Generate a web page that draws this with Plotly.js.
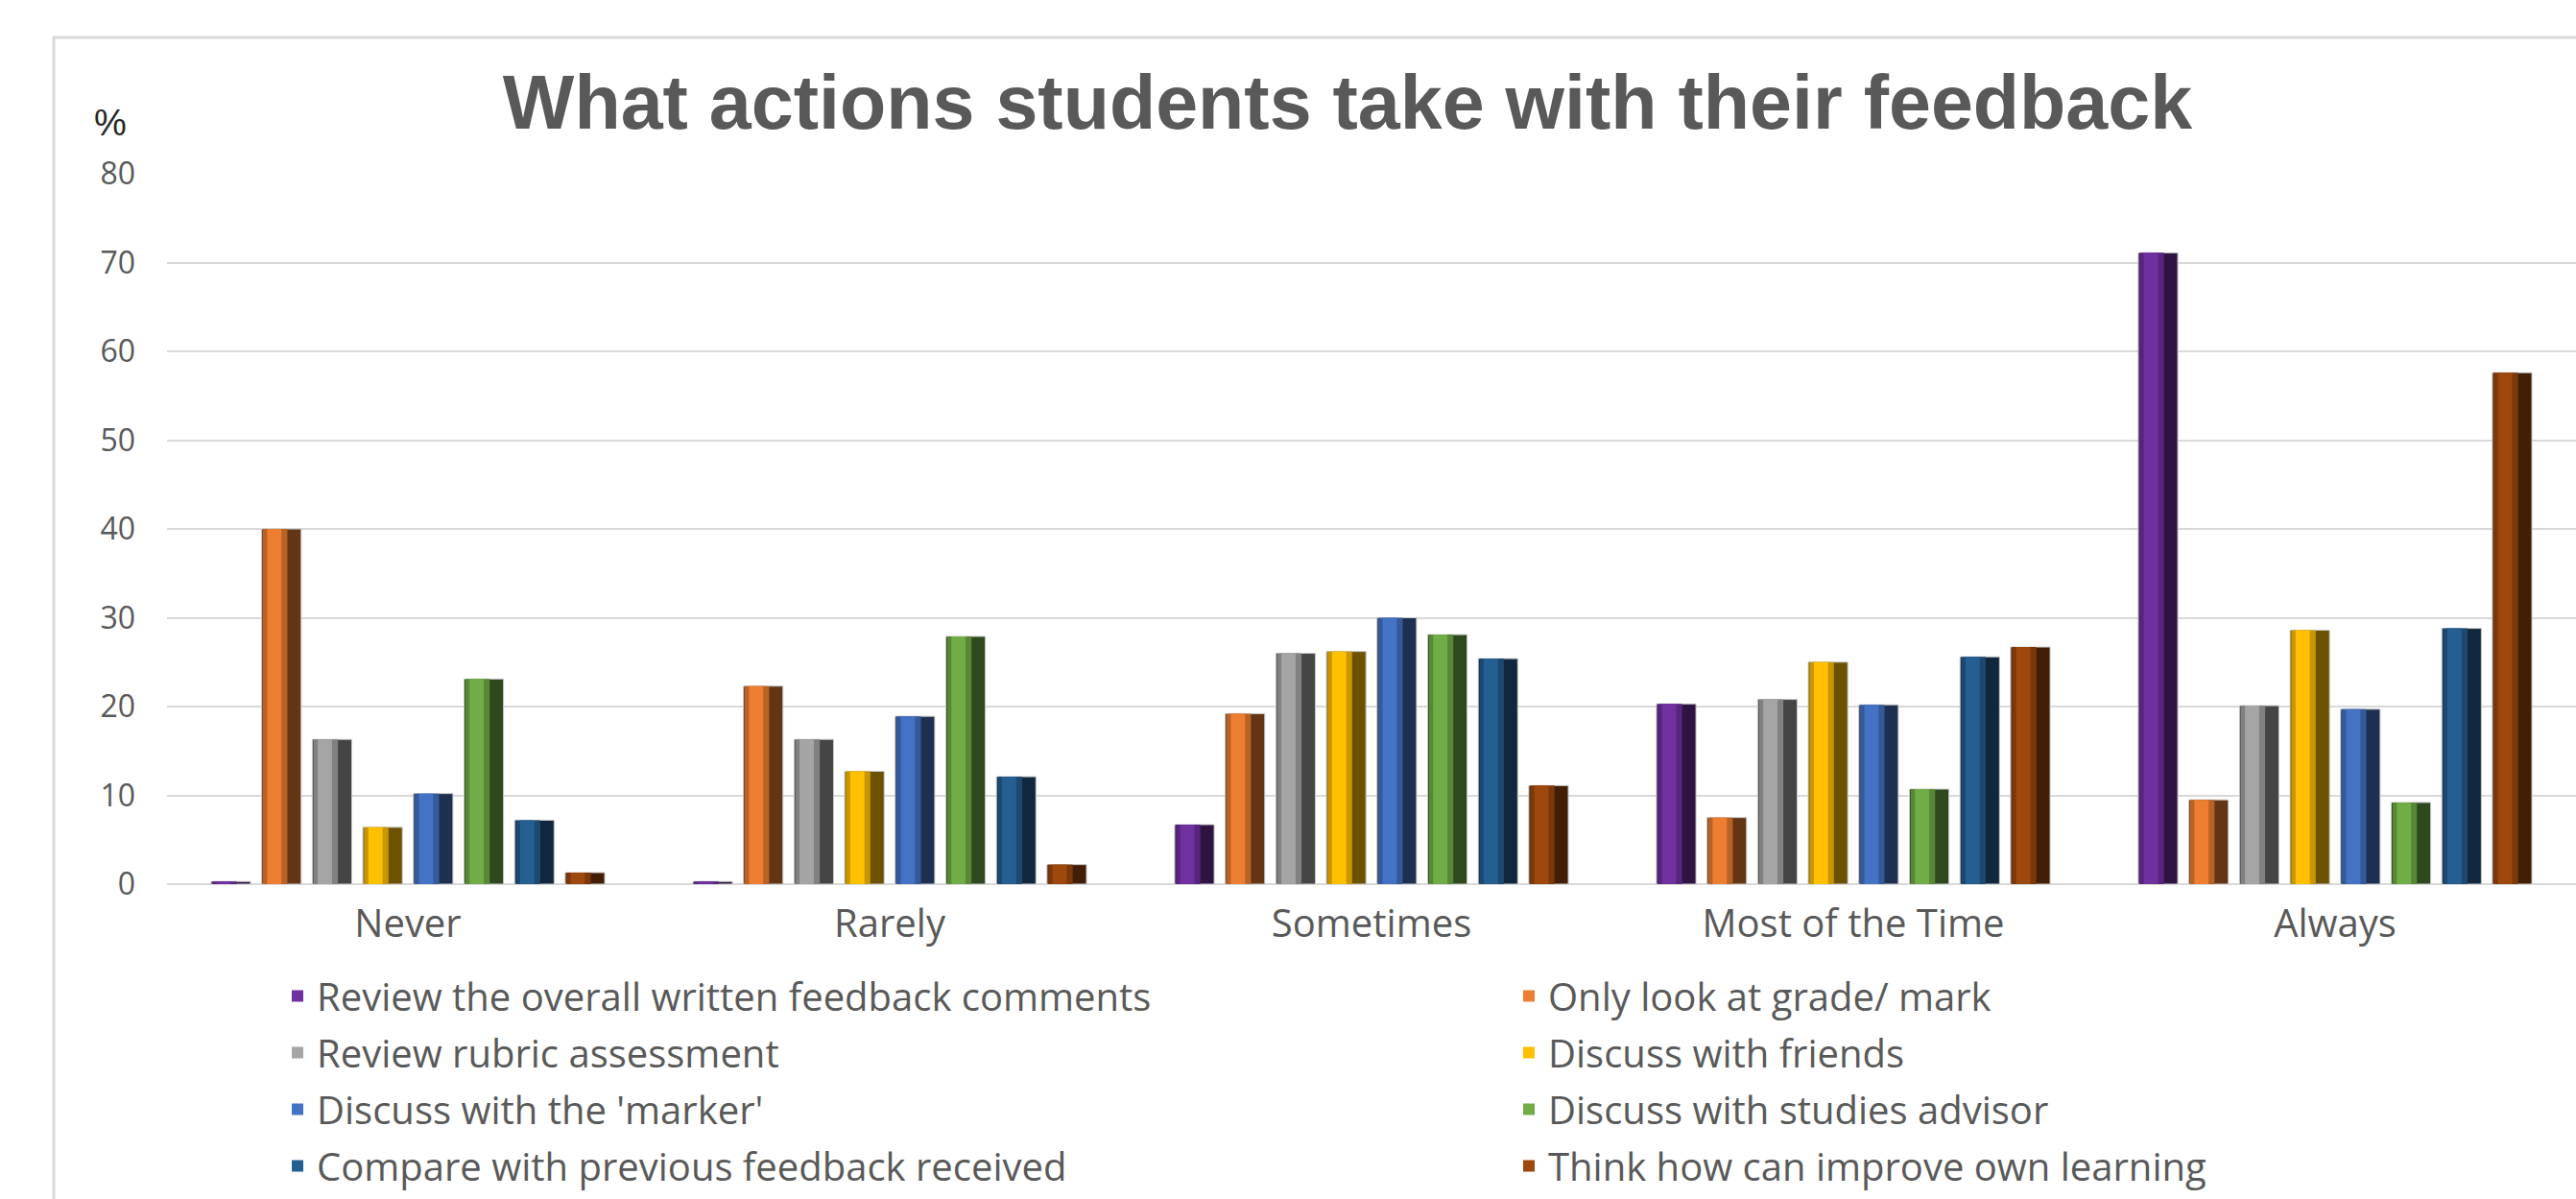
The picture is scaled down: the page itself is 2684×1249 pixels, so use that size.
<!DOCTYPE html>
<html><head><meta charset="utf-8">
<script src="https://cdn.plot.ly/plotly-3.0.1.min.js"></script>
<style>html,body{margin:0;padding:0;background:#fff;overflow:hidden}#chart{width:2684px;height:1249px}</style>
</head><body><div id="chart"></div>
<script>
const categories = ["Never", "Rarely", "Sometimes", "Most of the Time", "Always"];
const seriesNames = [
  "Review the overall written feedback comments",
  "Only look at grade/ mark",
  "Review rubric assessment",
  "Discuss with friends",
  "Discuss with the 'marker'",
  "Discuss with studies advisor",
  "Compare with previous feedback received",
  "Think how can improve own learning"
];
const reviewWritten   = [0.3, 0.3, 6.7, 20.3, 71.1];
const onlyGrade       = [40.0, 22.3, 19.2, 7.5, 9.5];
const reviewRubric    = [16.3, 16.3, 26.0, 20.8, 20.1];
const discussFriends  = [6.4, 12.7, 26.2, 25.0, 28.6];
const discussMarker   = [10.2, 18.9, 30.0, 20.2, 19.7];
const discussAdvisor  = [23.1, 27.9, 28.1, 10.7, 9.2];
const comparePrevious = [7.2, 12.1, 25.4, 25.6, 28.8];
const thinkImprove    = [1.3, 2.2, 11.1, 26.7, 57.6];
const yTickValues = [0, 10, 20, 30, 40, 50, 60, 70, 80];
const yTickLabels = ["0", "10", "20", "30", "40", "50", "60", "70", "80"];

const seriesValues = [reviewWritten, onlyGrade, reviewRubric, discussFriends,
  discussMarker, discussAdvisor, comparePrevious, thinkImprove];
const colors = ["#7030A0", "#ED7D31", "#A5A5A5", "#FFC000", "#4472C4", "#70AD47", "#255E91", "#9E480E"];

function shade(hex, f) {
  const n = parseInt(hex.slice(1), 16);
  const r = Math.round(((n >> 16) & 255) * f), g = Math.round(((n >> 8) & 255) * f), b = Math.round((n & 255) * f);
  return "rgb(" + r + "," + g + "," + b + ")";
}

const W = 2684, H = 1249;
const plotL = 174, plotR = 2684, plotT = 181, plotB = 921;
const pw = plotR - plotL, ph = plotB - plotT;
const px = v => (v - plotL) / pw;
const py = v => (plotB - v) / ph;

const txt = "#595959";
const fam = "Open Sans, Liberation Sans, Arial, sans-serif";

// bar geometry (in category units)
const bargap = 0.16, bargroupgap = 0.22, nSeries = seriesNames.length;
const slot = (1 - bargap) / nSeries;
const barW = slot * (1 - bargroupgap);

const traces = [];
seriesNames.forEach((name, i) => {
  const off = -(1 - bargap) / 2 + i * slot + (slot - barW) / 2;
  const common = {
    type: "bar", x: categories, y: seriesValues[i],
    legend: (i % 2 === 0) ? "legend" : "legend2",
    legendgroup: "g" + i, name: name, hoverinfo: "x+y+name"
  };
  // dark (right-side) body
  traces.push(Object.assign({}, common, {
    offset: off, width: barW, showlegend: false,
    marker: {color: shade(colors[i], 0.42), line: {color: "#c8c8c8", width: 1}}
  }));
  // medium left band
  traces.push(Object.assign({}, common, {
    offset: off + barW * 0.03, width: barW * 0.62, showlegend: false,
    marker: {color: shade(colors[i], 0.78), line: {width: 0}}
  }));
  // bright centre band (legend entry)
  traces.push(Object.assign({}, common, {
    offset: off + barW * 0.14, width: barW * 0.36, showlegend: true,
    marker: {color: colors[i], line: {width: 0}}
  }));
});

const legendCommon = {
  orientation: "v",
  xanchor: "left",
  yanchor: "top",
  y: py(1005),
  bgcolor: "rgba(0,0,0,0)",
  font: {family: fam, size: 40, color: txt},
  tracegroupgap: 4,
  traceorder: "grouped",
  itemclick: false
};

const layout = {
  width: W, height: H,
  paper_bgcolor: "#ffffff",
  plot_bgcolor: "#ffffff",
  margin: {l: plotL, r: W - plotR, t: plotT, b: H - plotB, pad: 0, autoexpand: false},
  title: {
    text: "What actions students take with their feedback",
    font: {family: "Liberation Sans, Arial, sans-serif", size: 79, color: txt, weight: "bold"},
    xref: "container", yref: "container",
    x: 1404 / W, xanchor: "center",
    y: 1 - 106 / H, yanchor: "middle"
  },
  barmode: "overlay",
  xaxis: {
    type: "category",
    range: [-0.5, 4.5],
    showgrid: false,
    showline: false,
    zeroline: false,
    ticks: "",
    tickfont: {family: fam, size: 40, color: txt},
    ticklabelstandoff: 14
  },
  yaxis: {
    range: [0, 80],
    tickmode: "array",
    tickvals: yTickValues,
    ticktext: yTickLabels,
    showgrid: true,
    gridcolor: "#d9d9d9",
    gridwidth: 2,
    zeroline: true,
    zerolinecolor: "#d9d9d9",
    zerolinewidth: 2,
    showline: false,
    ticks: "",
    tickfont: {family: fam, size: 32, color: txt},
    ticklabelstandoff: 32
  },
  legend: Object.assign({}, legendCommon, {x: px(290)}),
  legend2: Object.assign({}, legendCommon, {x: px(1573)}),
  annotations: [{
    text: "%",
    xref: "paper", yref: "paper",
    x: px(115), y: py(128),
    xanchor: "center", yanchor: "middle",
    showarrow: false,
    font: {family: "Liberation Sans, Arial, sans-serif", size: 38, color: "#262626"}
  }],
  shapes: [{
    type: "rect",
    xref: "paper", yref: "paper",
    x0: px(56), x1: px(2740), y0: py(1290), y1: py(39),
    line: {color: "#d9d9d9", width: 3},
    fillcolor: "rgba(0,0,0,0)",
    layer: "below"
  }],
  showlegend: true
};

Plotly.newPlot("chart", traces, layout, {displayModeBar: false, staticPlot: true});
</script>
</body></html>
